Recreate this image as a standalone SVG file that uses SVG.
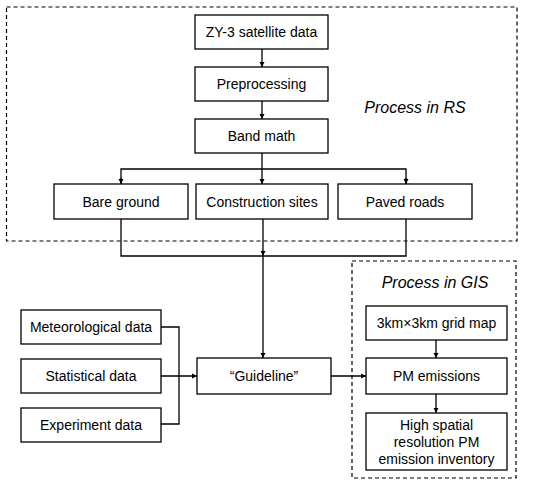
<svg xmlns="http://www.w3.org/2000/svg" width="550" height="484" viewBox="0 0 550 484">
<style>
.box{fill:#fff;stroke:#000;stroke-width:1.3}
.t{font-family:"Liberation Sans",Arial,sans-serif;font-size:14px;fill:#000;text-anchor:middle}
.it{font-family:"Liberation Sans",Arial,sans-serif;font-size:16px;font-style:italic;fill:#000;text-anchor:middle}
.dash{fill:none;stroke:#000;stroke-width:1.2;stroke-dasharray:4 3}
.c{fill:none;stroke:#000;stroke-width:1.3}
</style>
<defs>
<marker id="ah" markerWidth="6" markerHeight="6" refX="5" refY="3" orient="auto" markerUnits="userSpaceOnUse">
<path d="M0,0.5 L5,3 L0,5.5 Z" fill="#000"/>
</marker>
</defs>
<rect class="dash" x="6.5" y="7" width="510.5" height="234"/>
<text class="it" x="415" y="113">Process in RS</text>
<rect class="dash" x="352" y="261" width="164" height="217"/>
<text class="it" x="435" y="288">Process in GIS</text>
<g id="connectors">
<line class="c" x1="262" y1="49" x2="262" y2="67" marker-end="url(#ah)"/>
<line class="c" x1="262" y1="101" x2="262" y2="119" marker-end="url(#ah)"/>
<line class="c" x1="262" y1="153" x2="262" y2="184" marker-end="url(#ah)"/>
<path class="c" d="M121,184 V169 H406 V184" />
<line class="c" x1="121" y1="178" x2="121" y2="184" marker-end="url(#ah)"/>
<line class="c" x1="406" y1="178" x2="406" y2="184" marker-end="url(#ah)"/>
<path class="c" d="M121,219 V256 H406 V219"/>
<line class="c" x1="263" y1="219" x2="263" y2="256" marker-end="url(#ah)"/>
<line class="c" x1="263" y1="256" x2="263" y2="358" marker-end="url(#ah)"/>
<path class="c" d="M161,327 H179 V424 H161"/>
<line class="c" x1="161" y1="376" x2="197" y2="376" marker-end="url(#ah)"/>
<line class="c" x1="331" y1="376" x2="366" y2="376" marker-end="url(#ah)"/>
<line class="c" x1="436" y1="340" x2="436" y2="358" marker-end="url(#ah)"/>
<line class="c" x1="436" y1="394" x2="436" y2="413" marker-end="url(#ah)"/>
</g>
<g id="zy3"><rect class="box" x="195" y="15" width="133" height="34"/><text class="t" x="261.5" y="37">ZY-3 satellite data</text></g>
<g id="preprocessing"><rect class="box" x="195" y="67" width="133" height="34"/><text class="t" x="261.5" y="89">Preprocessing</text></g>
<g id="bandmath"><rect class="box" x="195" y="119" width="133" height="34"/><text class="t" x="261.5" y="141">Band math</text></g>
<g id="bare"><rect class="box" x="54" y="184" width="134" height="35"/><text class="t" x="121" y="207">Bare ground</text></g>
<g id="construction"><rect class="box" x="196" y="184" width="132" height="35"/><text class="t" x="262" y="207">Construction sites</text></g>
<g id="paved"><rect class="box" x="338" y="184" width="134" height="35"/><text class="t" x="405" y="207">Paved roads</text></g>
<g id="meteo"><rect class="box" x="21" y="310" width="140" height="34"/><text class="t" x="91" y="332">Meteorological data</text></g>
<g id="stat"><rect class="box" x="21" y="359" width="140" height="34"/><text class="t" x="91" y="381">Statistical data</text></g>
<g id="exp"><rect class="box" x="21" y="408" width="140" height="34"/><text class="t" x="91" y="430">Experiment data</text></g>
<g id="guideline"><rect class="box" x="197" y="358" width="134" height="36"/><text class="t" x="264" y="381">“Guideline”</text></g>
<g id="grid"><rect class="box" x="366" y="306" width="141" height="34"/><text class="t" x="436.5" y="328">3km×3km grid map</text></g>
<g id="pm"><rect class="box" x="366" y="358" width="141" height="36"/><text class="t" x="436.5" y="381">PM emissions</text></g>
<g id="inventory"><rect class="box" x="366" y="413" width="141" height="57"/><text class="t" x="436.5" y="430">High spatial</text><text class="t" x="436.5" y="447">resolution PM</text><text class="t" x="436.5" y="464">emission inventory</text></g>
</svg>
